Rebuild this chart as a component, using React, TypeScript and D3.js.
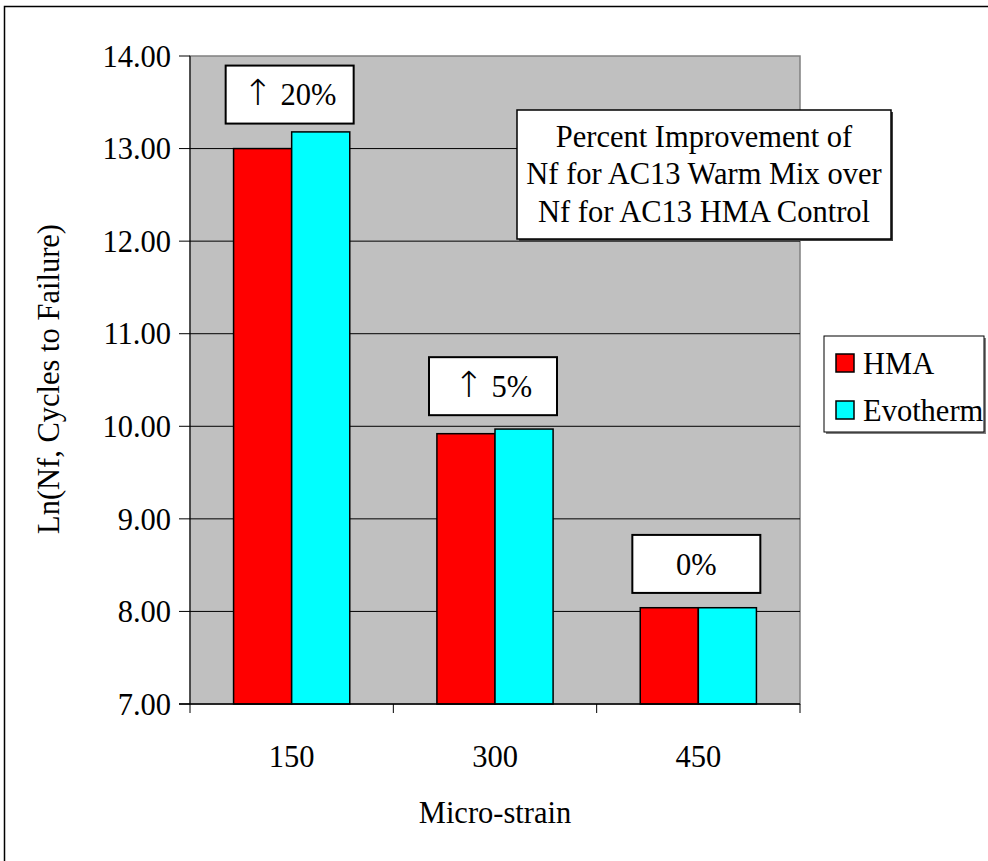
import React from 'react'
import * as d3 from 'd3'

const categories = ['150', '300', '450']
const seriesNames = ['HMA', 'Evotherm']
const seriesColors = ['#ff0000', '#00ffff']
const hmaValues = [13.0, 9.92, 8.04]
const evothermValues = [13.18, 9.97, 8.04]
const improvementLabels = ['\u2191 20%', '\u2191 5%', '0%']
// value where each improvement box sits (its bottom edge)
const improvementBoxBase = [13.27, 10.12, 8.2]
const yTickValues = [7, 8, 9, 10, 11, 12, 13, 14]
const noteLines = ['Percent Improvement of', 'Nf for AC13 Warm Mix over', 'Nf for AC13 HMA Control']

const W = 988
const H = 861
const font = '"Liberation Serif", "Times New Roman", serif'
const fs = 30.5

const T = (props: any) => <text fontFamily={font} fontSize={fs} fill="#000" {...props} />

// the arrow in the original is the tall Symbol-font glyph
const ImpLabel = ({ label }: { label: string }) => {
  if (label.startsWith('\u2191')) {
    return (
      <>
        <tspan fontFamily='"DejaVu Sans", sans-serif' fontSize={36} fontWeight={200}>{'\u2191'}</tspan>
        <tspan>{label.slice(1)}</tspan>
      </>
    )
  }
  return <>{label}</>
}

const App = () => {
  const margin = { top: 56, left: 190, right: 188, bottom: 157 }
  const plotW = W - margin.left - margin.right
  const plotH = H - margin.top - margin.bottom

  const x = d3.scaleBand().domain(categories).range([0, plotW])
  const inner = d3.scaleBand().domain(seriesNames).range([0, x.bandwidth() * (2 / 3.5)])
  const y = d3.scaleLinear().domain([7, 14]).range([plotH, 0])
  const valuesBySeries = [hmaValues, evothermValues]

  const groupOffset = (x.bandwidth() - inner.range()[1]) / 2

  return (
    <div style={{ position: 'absolute', left: 0, top: 0 }}>
      <svg width={W} height={H} style={{ display: 'block' }}>
        <rect x={0} y={0} width={W} height={H} fill="#fff" />
        {/* chart border, runs off the right and bottom edges */}
        <rect x={4.5} y={6.5} width={W + 10} height={H + 10} fill="none" stroke="#000" strokeWidth={1.5} />

        <g transform={`translate(${margin.left},${margin.top})`}>
          <rect x={0} y={0} width={plotW} height={plotH} fill="#c0c0c0" stroke="#808080" strokeWidth={1.5} />

          {yTickValues.map(t => (
            <g key={`g-${t}`}>
              {t > 7 && t < 14 && <line x1={0} x2={plotW} y1={y(t)} y2={y(t)} stroke="#000" strokeWidth={1} />}
              <line x1={-11} x2={0} y1={y(t)} y2={y(t)} stroke="#000" strokeWidth={1} />
              <T x={-19} y={y(t)} dy="0.35em" textAnchor="end">{t.toFixed(2)}</T>
            </g>
          ))}

          {/* bars */}
          {categories.map((c, i) => (
            <g key={`bars-${c}`}>
              {seriesNames.map((s, j) => {
                const v = valuesBySeries[j][i]
                return (
                  <rect
                    key={`bar-${c}-${s}`}
                    x={(x(c) as number) + groupOffset + (inner(s) as number)}
                    y={y(v)}
                    width={inner.bandwidth()}
                    height={y(7) - y(v)}
                    fill={seriesColors[j]}
                    stroke="#000"
                    strokeWidth={1.5}
                  />
                )
              })}
            </g>
          ))}

          {/* axes */}
          <line x1={0} x2={0} y1={0} y2={plotH} stroke="#000" strokeWidth={1} />
          <line x1={-11} x2={plotW} y1={plotH} y2={plotH} stroke="#000" strokeWidth={1.5} />
          {[0, ...categories.map(c => (x(c) as number) + x.bandwidth())].map((p, i) => (
            <line key={`xt-${i}`} x1={p} x2={p} y1={plotH} y2={plotH + 9} stroke="#000" strokeWidth={1} />
          ))}
          {categories.map(c => (
            <T key={`xl-${c}`} x={(x(c) as number) + x.bandwidth() / 2} y={plotH + 52} dy="0.35em" textAnchor="middle">{c}</T>
          ))}

          {/* improvement boxes */}
          {categories.map((c, i) => {
            const cx = (x(c) as number) + x.bandwidth() / 2 - 2
            const by = y(improvementBoxBase[i])
            return (
              <g key={`imp-${c}`}>
                <rect x={cx - 64} y={by - 58} width={128} height={58} fill="#fff" stroke="#000" strokeWidth={2} />
                <T x={cx} y={by - 29} dy="0.35em" textAnchor="middle"><ImpLabel label={improvementLabels[i]} /></T>
              </g>
            )
          })}
        </g>

        {/* note box */}
        <rect x={519} y={112} width={374} height={129} fill="#404040" />
        <rect x={517} y={110} width={374} height={129} fill="#fff" stroke="#000" strokeWidth={1.5} />
        {noteLines.map((l, i) => (
          <T key={`note-${i}`} x={704} y={136 + i * 37.5} dy="0.35em" textAnchor="middle">{l}</T>
        ))}

        {/* legend */}
        <rect x={826} y={338} width={160} height={96} fill="#808080" />
        <rect x={824} y={336} width={160} height={96} fill="#fff" stroke="#000" strokeWidth={1} />
        {seriesNames.map((s, i) => (
          <g key={`leg-${s}`} transform={`translate(836,${363 + i * 47})`}>
            <rect x={0} y={-9} width={18} height={18} fill={seriesColors[i]} stroke="#000" strokeWidth={1.5} />
            <T x={27} y={0} dy="0.35em">{s}</T>
          </g>
        ))}

        {/* axis titles */}
        <T x={495} y={812} dy="0.35em" textAnchor="middle">Micro-strain</T>
        <T transform="translate(48,379) rotate(-90)" dy="0.35em" textAnchor="middle">Ln(Nf, Cycles to Failure)</T>
      </svg>
    </div>
  )
}

export default App
